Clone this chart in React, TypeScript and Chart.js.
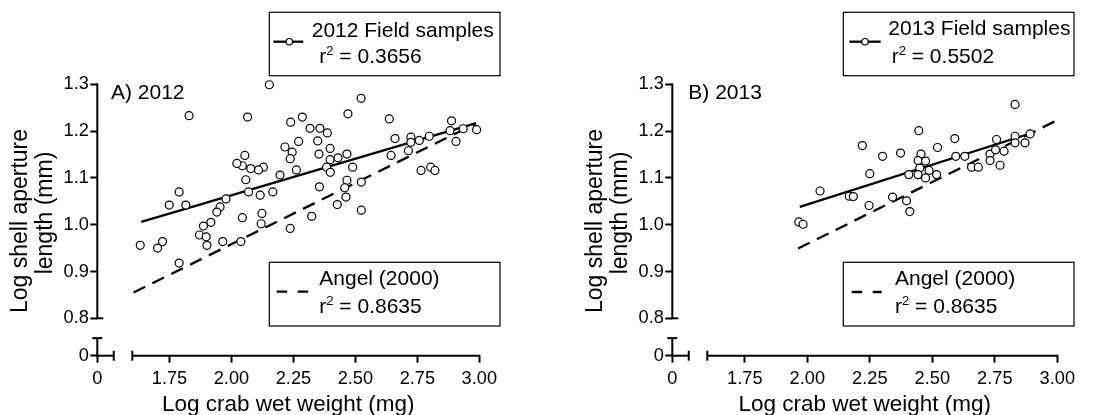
import React, { useEffect, useRef } from "react";
import { Chart, registerables } from "chart.js";

Chart.register(...registerables);

const FONT = '"Liberation Sans", Arial, Helvetica, sans-serif';

// ---- axis ticks / labels ----
const xTickValues = [1.75, 2.0, 2.25, 2.5, 2.75, 3.0];
const yTickValues = [0.8, 0.9, 1.0, 1.1, 1.2, 1.3];
const zeroTick = [0];
const xMin = 1.6;
const xMax = 3.0;
const yMin = 0.8;
const yMax = 1.3;
const xTitle = "Log crab wet weight (mg)";
const yTitleLines = ["Log shell aperture", "length (mm)"];

// ---- 2012 field samples ----
const field2012X = [
  2.153, 1.829, 2.065, 2.523, 2.47, 2.286, 2.239, 2.637, 2.317, 2.357,
  2.387, 2.348, 2.271, 2.216, 2.245, 2.237, 2.353, 2.398, 2.398, 2.43,
  2.466, 2.384, 2.399, 2.489, 2.466, 2.457, 2.524, 2.462, 2.524, 2.427,
  2.355, 2.324, 2.237, 2.262, 2.196, 2.167, 2.116, 2.123, 2.12, 2.129,
  2.109, 2.078, 2.054, 2.044, 2.022, 2.058, 2.069, 2.044, 1.978, 1.954,
  1.941, 1.917, 1.887, 1.871, 1.898, 1.901, 1.965, 2.038, 1.749, 1.789,
  1.816, 1.632, 1.702, 1.722, 1.789, 2.644, 2.66, 2.714, 2.724, 2.724,
  2.758, 2.798, 2.765, 2.804, 2.821, 2.888, 2.882, 2.935, 2.989, 2.906,
];
const field2012Y = [
  1.299, 1.233, 1.23, 1.27, 1.237, 1.23, 1.219, 1.226, 1.206, 1.206,
  1.196, 1.179, 1.178, 1.166, 1.155, 1.141, 1.151, 1.163, 1.139, 1.143,
  1.151, 1.123, 1.112, 1.123, 1.095, 1.079, 1.091, 1.059, 1.031, 1.043,
  1.081, 1.018, 0.992, 1.117, 1.106, 1.07, 1.063, 1.024, 1.002, 1.123,
  1.117, 1.12, 1.148, 1.126, 1.131, 1.096, 1.07, 1.015, 1.055, 1.038,
  1.027, 1.005, 0.997, 0.978, 0.974, 0.956, 0.964, 0.964, 1.042, 1.07,
  1.042, 0.956, 0.95, 0.964, 0.918, 1.148, 1.184, 1.158, 1.187, 1.176,
  1.18, 1.189, 1.116, 1.123, 1.116, 1.222, 1.201, 1.205, 1.203, 1.178,
];
const fit2012X = [1.636, 2.987];
const fit2012Y = [1.006, 1.217];
const angel2012X = [1.605, 2.985];
const angel2012Y = [0.855, 1.216];
const r2Field2012 = "0.3656";

// ---- 2013 field samples ----
const field2013X = [
  2.831, 2.446, 2.22, 2.59, 2.757, 2.831, 2.891, 2.831, 2.871, 2.301,
  2.373, 2.455, 2.521, 2.443, 2.473, 2.594, 2.63, 2.731, 2.753, 2.787,
  2.731, 2.771, 2.657, 2.684, 2.45, 2.487, 2.406, 2.443, 2.517, 2.473,
  2.25, 2.051, 2.168, 2.184, 2.341, 2.247, 2.397, 2.41, 1.966, 1.983,
];
const field2013Y = [
  1.257, 1.201, 1.169, 1.184, 1.182, 1.189, 1.194, 1.175, 1.175, 1.146,
  1.153, 1.151, 1.165, 1.137, 1.136, 1.146, 1.146, 1.151, 1.16, 1.157,
  1.137, 1.127, 1.123, 1.123, 1.121, 1.116, 1.107, 1.107, 1.107, 1.1,
  1.109, 1.072, 1.061, 1.06, 1.059, 1.041, 1.051, 1.028, 1.006, 1.001,
];
const fit2013X = [1.97, 2.904];
const fit2013Y = [1.038, 1.197];
const angel2013X = [1.963, 2.991];
const angel2013Y = [0.949, 1.221];
const r2Field2013 = "0.5502";

const r2Angel = "0.8635";
const angelLabel = "Angel (2000)";

// ---- layout (page coordinates) ----
const H = 415;
const TOP = 84.3;
const AXIS_Y = 355.7;
const MAIN_H = 234;
const GAP = 35;
const BREAK = 0.47;

const panels = [
  {
    left: 0,
    width: 557,
    axisX: 97.3,
    xEnd: 479.3,
    label: "A) 2012",
    labelX: 111,
    fieldX: field2012X,
    fieldY: field2012Y,
    fitX: fit2012X,
    fitY: fit2012Y,
    angelX: angel2012X,
    angelY: angel2012Y,
    fieldLabel: "2012 Field samples",
    r2Field: r2Field2012,
    topBox: { x: 269.3, y: 12.3, w: 230.7, h: 63.4 },
    topSample: { x1: 273.3, x2: 303.3, y: 41.7, cx: 289.3 },
    topText: { x: 311.7, y: 36.7 },
    topR2: { x: 319.3, y: 63.3 },
    botBox: { x: 269.3, y: 262.3, w: 230.7, h: 63.7 },
    botSample: { x1: 276.7, x2: 308.3, y: 291.7 },
    botText: { x: 319.3, y: 285 },
    botR2: { x: 319.3, y: 313.3 },
  },
  {
    left: 557,
    width: 558,
    axisX: 115.3,
    xEnd: 500.3,
    label: "B) 2013",
    labelX: 688.3,
    fieldX: field2013X,
    fieldY: field2013Y,
    fitX: fit2013X,
    fitY: fit2013Y,
    angelX: angel2013X,
    angelY: angel2013Y,
    fieldLabel: "2013 Field samples",
    r2Field: r2Field2013,
    topBox: { x: 843.3, y: 12.3, w: 230.7, h: 63.4 },
    topSample: { x1: 849.3, x2: 880.7, y: 41.7, cx: 865 },
    topText: { x: 888.3, y: 35 },
    topR2: { x: 891.7, y: 63.3 },
    botBox: { x: 843.3, y: 262.3, w: 230.7, h: 63.7 },
    botSample: { x1: 851.7, x2: 881.7, y: 292 },
    botText: { x: 895, y: 285 },
    botR2: { x: 895, y: 313.3 },
  },
];

function zip(xs: number[], ys: number[]) {
  return xs.map((x, i) => ({ x, y: ys[i] }));
}

function Panel({ cfg }: { cfg: any }) {
  const ref = useRef<HTMLCanvasElement>(null);
  useEffect(() => {
    const canvas = ref.current!;
    const L = cfg.left;
    const tickFont = { family: FONT, size: 18.2 };
    const gridCfg = {
      display: true,
      drawOnChartArea: false,
      drawTicks: true,
      tickLength: 7,
      tickWidth: 2,
      tickColor: "#000",
    };

    const drawR2 = (c: CanvasRenderingContext2D, x: number, y: number, value: string, size: number) => {
      c.textAlign = "left";
      c.textBaseline = "alphabetic";
      c.font = `${size}px ${FONT}`;
      c.fillText("r", x, y);
      const w = c.measureText("r").width;
      c.font = `${size * 0.62}px ${FONT}`;
      c.fillText("2", x + w, y - size * 0.4);
      const w2 = c.measureText("2").width;
      c.font = `${size}px ${FONT}`;
      c.fillText(" = " + value, x + w + w2, y);
    };

    const decor = {
      id: "decor",
      afterDraw(chart: any) {
        const c: CanvasRenderingContext2D = chart.ctx;
        const sx0 = chart.scales.x0;
        const sx = chart.scales.x;
        const sy = chart.scales.y;
        const sy0 = chart.scales.y0;
        const ax = sx0.getPixelForValue(0);
        const by = sy0.getPixelForValue(0);
        c.save();
        c.strokeStyle = "#000";
        c.fillStyle = "#000";
        c.lineWidth = 2;
        c.lineCap = "butt";
        const line = (x1: number, y1: number, x2: number, y2: number) => {
          c.beginPath();
          c.moveTo(x1, y1);
          c.lineTo(x2, y2);
          c.stroke();
        };
        // upper y axis
        const y08 = sy.getPixelForValue(sy.min);
        line(ax, sy.getPixelForValue(sy.max) - 1, ax, y08);
        line(ax - 1, y08, ax + 6, y08);
        // lower y segment
        const yCap = sy0.getPixelForValue(BREAK);
        line(ax, yCap, ax, by);
        line(ax - 5, yCap, ax + 5, yCap);
        // x break segment
        const xCap = sx0.getPixelForValue(BREAK);
        line(ax - 1, by, xCap, by);
        line(xCap, by - 5, xCap, by + 5);
        // main x axis
        const xs = sx.getPixelForValue(sx.min);
        line(xs, by, sx.getPixelForValue(sx.max) + 1, by);
        line(xs, by - 5, xs, by + 5);

        // x title
        c.font = `22.5px ${FONT}`;
        c.textAlign = "center";
        c.textBaseline = "alphabetic";
        const area = chart.chartArea;
        c.fillText(xTitle, (area.left + area.right) / 2, 411);
        // y title
        c.font = `23px ${FONT}`;
        const yc = [221, 213];
        const off = [70.3, 45.3];
        yTitleLines.forEach((t, i) => {
          c.save();
          c.translate(ax - off[i], yc[i]);
          c.rotate(-Math.PI / 2);
          c.fillText(t, 0, 0);
          c.restore();
        });
        // panel label
        c.font = `21px ${FONT}`;
        c.textAlign = "left";
        c.fillText(cfg.label, cfg.labelX - L, 99.3);

        // legends
        c.lineWidth = 1.2;
        const tb = cfg.topBox;
        c.strokeRect(tb.x - L, tb.y, tb.w, tb.h);
        const bb = cfg.botBox;
        c.strokeRect(bb.x - L, bb.y, bb.w, bb.h);
        // solid sample
        c.lineWidth = 2.3;
        const ts = cfg.topSample;
        line(ts.x1 - L, ts.y, ts.x2 - L, ts.y);
        c.lineWidth = 1.2;
        c.beginPath();
        c.arc(ts.cx - L, ts.y, 3.2, 0, Math.PI * 2);
        c.fillStyle = "#fff";
        c.fill();
        c.stroke();
        c.fillStyle = "#000";
        // dashed sample
        c.lineWidth = 2.3;
        c.setLineDash([10.5, 10.5]);
        const bs = cfg.botSample;
        line(bs.x1 - L, bs.y, bs.x2 - L, bs.y);
        c.setLineDash([]);
        // texts
        c.font = `21px ${FONT}`;
        c.textAlign = "left";
        c.fillText(cfg.fieldLabel, cfg.topText.x - L, cfg.topText.y);
        drawR2(c, cfg.topR2.x - L, cfg.topR2.y, cfg.r2Field, 21);
        c.font = `21px ${FONT}`;
        c.fillText(angelLabel, cfg.botText.x - L, cfg.botText.y);
        drawR2(c, cfg.botR2.x - L, cfg.botR2.y, r2Angel, 21);
        c.restore();
      },
    };

    const chart = new Chart(canvas, {
      type: "scatter",
      data: {
        datasets: [
          {
            label: cfg.fieldLabel,
            data: zip(cfg.fieldX, cfg.fieldY),
            xAxisID: "x",
            yAxisID: "y",
            showLine: false,
            pointRadius: 4,
            pointBorderWidth: 1.2,
            pointBorderColor: "#000",
            pointBackgroundColor: "#fff",
            pointHoverRadius: 4,
            clip: false,
            order: 0,
          } as any,
          {
            label: "fit",
            data: zip(cfg.fitX, cfg.fitY),
            xAxisID: "x",
            yAxisID: "y",
            showLine: true,
            borderColor: "#000",
            borderWidth: 2.3,
            pointRadius: 0,
            clip: false,
            order: 1,
          } as any,
          {
            label: angelLabel,
            data: zip(cfg.angelX, cfg.angelY),
            xAxisID: "x",
            yAxisID: "y",
            showLine: true,
            borderColor: "#000",
            borderWidth: 2.3,
            borderDash: [13, 8],
            pointRadius: 0,
            clip: false,
            order: 2,
          } as any,
        ],
      },
      options: {
        animation: false,
        responsive: false,
        maintainAspectRatio: false,
        events: [],
        layout: {
          padding: { top: TOP, right: cfg.width - cfg.xEnd, bottom: 0, left: 0 },
        },
        plugins: { legend: { display: false }, tooltip: { enabled: false } },
        scales: {
          x0: {
            type: "linear",
            position: "bottom",
            stack: "xs",
            stackWeight: GAP,
            weight: 0,
            min: 0,
            max: 1,
            afterBuildTicks: (s: any) => {
              s.ticks = zeroTick.map((v) => ({ value: v }));
            },
            afterFit: (s: any) => {
              s.height = H - AXIS_Y;
            },
            grid: gridCfg,
            border: { display: false },
            ticks: { font: tickFont, color: "#000", padding: 5, maxRotation: 0, callback: (v: any) => String(v) },
          },
          x: {
            type: "linear",
            position: "bottom",
            stack: "xs",
            stackWeight: cfg.xEnd - cfg.axisX - GAP,
            weight: 1,
            min: xMin,
            max: xMax,
            afterBuildTicks: (s: any) => {
              s.ticks = xTickValues.map((v) => ({ value: v }));
            },
            afterFit: (s: any) => {
              s.height = H - AXIS_Y;
            },
            grid: gridCfg,
            border: { display: false },
            ticks: { font: tickFont, color: "#000", padding: 5, maxRotation: 0, autoSkip: false, callback: (v: any) => Number(v).toFixed(2) },
          },
          y: {
            type: "linear",
            position: "left",
            stack: "ys",
            stackWeight: MAIN_H,
            weight: 1,
            min: yMin,
            max: yMax,
            afterBuildTicks: (s: any) => {
              s.ticks = yTickValues.map((v) => ({ value: v }));
            },
            afterFit: (s: any) => {
              s.width = cfg.axisX;
            },
            grid: gridCfg,
            border: { display: false },
            ticks: { font: tickFont, color: "#000", padding: 1.5, autoSkip: false, callback: (v: any) => Number(v).toFixed(1) },
          },
          y0: {
            type: "linear",
            position: "left",
            stack: "ys",
            stackWeight: AXIS_Y - TOP - MAIN_H,
            weight: 0,
            min: 0,
            max: 1,
            afterBuildTicks: (s: any) => {
              s.ticks = zeroTick.map((v) => ({ value: v }));
            },
            afterFit: (s: any) => {
              s.width = cfg.axisX;
            },
            grid: gridCfg,
            border: { display: false },
            ticks: { font: tickFont, color: "#000", padding: 1.5, callback: (v: any) => String(v) },
          },
        } as any,
      },
      plugins: [decor],
    });
    return () => chart.destroy();
  }, [cfg]);
  return (
    <canvas
      ref={ref}
      width={cfg.width}
      height={H}
      style={{ position: "absolute", left: cfg.left, top: 0, width: cfg.width, height: H }}
    />
  );
}

export default function App() {
  return (
    <div style={{ position: "absolute", left: 0, top: 0, width: 1115, height: H, background: "#fff", overflow: "hidden" }}>
      {panels.map((p, i) => (
        <Panel key={i} cfg={p} />
      ))}
    </div>
  );
}
